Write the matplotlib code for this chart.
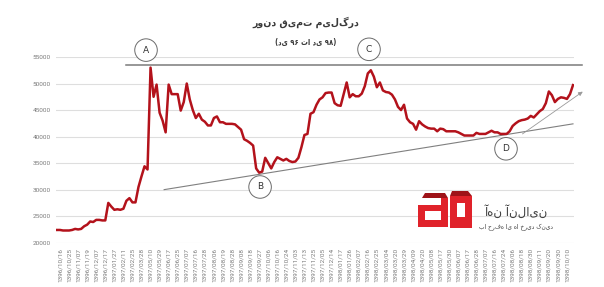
import matplotlib
matplotlib.use("Agg")
import matplotlib.pyplot as plt
from matplotlib.patches import Polygon, FancyArrowPatch

# ---------------- data ----------------
tick_labels = [
    "1396/10/16", "1396/10/25", "1396/11/07", "1396/11/19", "1396/12/07", "1396/12/17",
    "1397/01/27", "1397/02/11", "1397/02/25", "1397/03/28", "1397/05/10", "1397/05/29",
    "1397/06/17", "1397/06/25", "1397/07/07", "1397/07/16", "1397/07/28", "1397/08/06",
    "1397/08/19", "1397/08/28", "1397/09/08", "1397/09/18", "1397/09/27", "1397/10/06",
    "1397/10/16", "1397/10/24", "1397/11/03", "1397/11/13", "1397/11/25", "1397/12/05",
    "1397/12/14", "1398/01/17", "1398/01/26", "1398/02/07", "1398/02/16", "1398/02/25",
    "1398/03/04", "1398/03/20", "1398/03/29", "1398/04/09", "1398/04/20", "1398/05/08",
    "1398/05/17", "1398/05/30", "1398/06/07", "1398/06/17", "1398/06/28", "1398/07/07",
    "1398/07/16", "1398/07/24", "1398/08/06", "1398/08/18", "1398/08/30", "1398/09/11",
    "1398/09/20", "1398/09/30", "1398/10/10",
]
# one label every 3 observations, first label on observation 1
label_step = 3
label_offset = 1

price = [
    22400, 22400, 22300, 22300, 22300, 22400, 22600, 22500, 22600, 23100,
    23400, 24000, 23900, 24300, 24300, 24200, 24200, 27500, 26800, 26200,
    26300, 26200, 26400, 27900, 28400, 27600, 27600, 30500, 32500, 34400,
    33800, 53000, 47500, 49800, 44500, 43000, 40800, 49800, 48000, 48000,
    48000, 44900, 46500, 50000, 47000, 45000, 43500, 44300, 43200, 42800,
    42100, 42100, 43500, 43800, 42700, 42700, 42400, 42400, 42400, 42300,
    41800, 41300, 39500, 39200, 38800, 38300, 34000, 33200, 33400, 36000,
    35000, 34000, 35200, 36100, 35800, 35500, 35800, 35400, 35200, 35300,
    36000, 38000, 40300, 40500, 44300, 44600, 46000, 47000, 47400, 48200,
    48300, 48300, 46300, 45900, 45800, 48000, 50200, 47400, 48000, 47600,
    47600, 48100, 49500, 51900, 52500, 51300, 49300, 50200, 48700, 48400,
    48300, 47900, 47000, 45600, 45000, 46000, 43400, 42700, 42400, 41300,
    42900, 42300, 41900, 41600, 41500, 41500, 41000, 41500, 41400, 41000,
    41000, 41000, 41000, 40800, 40500, 40200, 40200, 40200, 40200, 40700,
    40500, 40500, 40500, 40800, 41100, 40800, 40800, 40500, 40500, 40500,
    41000, 42000, 42500, 42900, 43100, 43200, 43400, 43900, 43600, 44200,
    44800, 45200, 46300, 48500, 47800, 46500, 47100, 47400, 47300, 47100,
    48000, 49700,
]

y_ticks = [20000, 25000, 30000, 35000, 40000, 45000, 50000, 55000]

# annotation lines (observation index, price)
resistance = ([22.9, 174.0], [53500, 53500])
support = ([35.5, 171.0], [30000, 42400])
trend_arrow = ([153.5, 175.0], [40200, 48780])
points = {"A": (29.5, 56300), "B": (67.3, 30500), "C": (103.4, 56450), "D": (148.8, 37700)}

title = "روند قیمت میلگرد"
subtitle = "(دی ۹۶ تا دی ۹۸)"
brand = "آهن آنلاین"
slogan = "با حرفه ای ها خرید کنید"

# ---------------- figure ----------------
W, H = 604, 287
fig = plt.figure(figsize=(W / 100, H / 100), dpi=100)
fig.patch.set_facecolor("white")

x_left_px, x_right_px = 56.1, 573.9
y_bot_px, y_top_px = 242.7, 57.0
ax = fig.add_axes([x_left_px / W, 1 - y_bot_px / H,
                   (x_right_px - x_left_px) / W, (y_bot_px - y_top_px) / H])

x = list(range(len(price)))
ax.set_xlim(-0.3, len(price) - 1 + 0.3)
ax.set_ylim(20000, 55000)

for yt in y_ticks:
    ax.axhline(yt, color="#dedede", lw=0.8, zorder=0)

ax.plot(x, price, color="#b3121b", lw=1.8, solid_joinstyle="round", zorder=3)

# annotation lines
ax.plot(*resistance, color="#7a7a7a", lw=1.1, clip_on=False, zorder=2)
ax.plot(*support, color="#808080", lw=0.8, clip_on=False, zorder=2)
arr = FancyArrowPatch((trend_arrow[0][0], trend_arrow[1][0]),
                      (trend_arrow[0][1], trend_arrow[1][1]),
                      arrowstyle="-|>,head_length=2.5,head_width=1.2",
                      color="#9a9a9a", lw=0.6, clip_on=False, zorder=2)
ax.add_patch(arr)

for k, (px, py) in points.items():
    ax.text(px, py, k, ha="center", va="center", fontsize=6.5, color="#333333",
            family="DejaVu Sans", clip_on=False, zorder=5,
            bbox=dict(boxstyle="circle,pad=0.75", fc="white", ec="#6a6a6a", lw=0.7))

for s in ax.spines.values():
    s.set_visible(False)

ax.set_yticks(y_ticks)
ax.set_yticklabels([str(v) for v in y_ticks], fontsize=4.6, color="#7a7a7a",
                   family="Roboto")
ticks = [label_offset + label_step * i for i in range(len(tick_labels))]
ax.set_xticks(ticks)
ax.set_xticklabels(tick_labels, rotation=90, fontsize=4.6, color="#7a7a7a",
                   family="Roboto")
ax.tick_params(axis="both", length=0, pad=4)

# titles
fig.text(306 / W, 1 - 22 / H, title, ha="center", va="center",
         fontsize=7.5, weight="bold", color="#3a3a3a", family="DejaVu Sans",
         fontstretch="condensed")
fig.text(306 / W, 1 - 43 / H, subtitle, ha="center", va="center",
         fontsize=5.5, weight="bold", color="#3a3a3a", family="DejaVu Sans",
         fontstretch="condensed")

# logo
lax = fig.add_axes([415 / W, 1 - 231 / H, 60 / W, 42 / H])
lax.set_xlim(415, 475)
lax.set_ylim(231, 189)
lax.axis("off")
red = "#e0222a"
dark = "#9e1318"
# left piece
lax.add_patch(Polygon([(422, 198), (448, 198), (448, 227), (418, 227), (418, 205),
                       (441, 205), (441, 198)], closed=True, fc=red, ec="none"))
lax.add_patch(Polygon([(418, 205), (441, 205), (441, 210), (418, 210)], closed=True,
                      fc=red, ec="none"))
lax.add_patch(Polygon([(425, 211), (441, 211), (441, 220), (425, 220)], closed=True,
                      fc="white", ec="none"))
lax.add_patch(Polygon([(425, 193), (445, 193), (448, 198), (422, 198)], closed=True,
                      fc=dark, ec="none"))
# right piece
lax.add_patch(Polygon([(450, 196), (472, 196), (472, 228), (450, 228)], closed=True,
                      fc=red, ec="none"))
lax.add_patch(Polygon([(457, 203), (465, 203), (465, 217), (457, 217)], closed=True,
                      fc="white", ec="none"))
lax.add_patch(Polygon([(452, 191), (468, 191), (472, 196), (450, 196)], closed=True,
                      fc=dark, ec="none"))

fig.text(516 / W, 1 - 212 / H, brand, ha="center", va="center",
         fontsize=8.5, color="#3c3c3c", family="DejaVu Sans")
fig.text(516 / W, 1 - 227 / H, slogan, ha="center", va="center",
         fontsize=4.2, color="#3c3c3c", family="DejaVu Sans")

fig.savefig("out.png", dpi=100, facecolor="white")
